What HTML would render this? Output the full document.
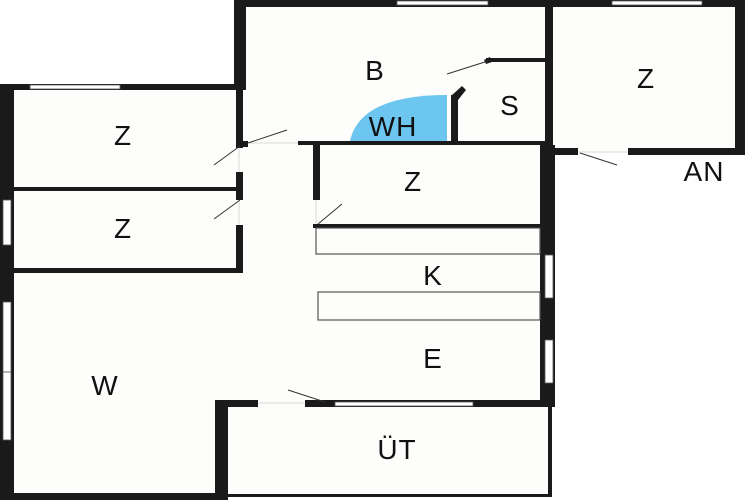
<!DOCTYPE html>
<html><head><meta charset="utf-8"><style>
html,body{margin:0;padding:0;background:#fff;}
svg{display:block}
text{font-family:"Liberation Sans",sans-serif;font-size:28px;fill:#111;text-anchor:middle;letter-spacing:1px}
</style></head><body>
<svg width="750" height="500" viewBox="0 0 750 500" xmlns="http://www.w3.org/2000/svg">
<path d="M0 84 H240 V0 H742 V152 H553 V407 H552 V497 H220 V500 H0 Z" fill="#fdfdfb"/>
<path d="M350 141 Q360 95 447 95 V141 Z" fill="#6cc6ef"/>
<g fill="#1a1a1a">
<rect x="234" y="0" width="510" height="7"/>
<rect x="234" y="0" width="12" height="90"/>
<rect x="735" y="0" width="10" height="155"/>
<rect x="545" y="0" width="8" height="150"/>
<rect x="553" y="148" width="25" height="7"/>
<rect x="628" y="148" width="117" height="7"/>
<rect x="0" y="84" width="246" height="6"/>
<rect x="0" y="84" width="14" height="416"/>
<rect x="236" y="88" width="7" height="60"/>
<rect x="236" y="172" width="7" height="28"/>
<rect x="236" y="225" width="7" height="48"/>
<rect x="14" y="187" width="226" height="4"/>
<rect x="14" y="268" width="229" height="5"/>
<rect x="298" y="141" width="250" height="4"/>
<rect x="240" y="141" width="8" height="6"/>
<rect x="313" y="145" width="7" height="55"/>
<rect x="313" y="224" width="230" height="4"/>
<rect x="451" y="95" width="7" height="47"/>
<path d="M451 96 L462 86 L466 90 L458 100 Z"/>
<rect x="486" y="58" width="60" height="4"/>
<path d="M484 60 L490 57 L492 62 L486 64 Z"/>
<rect x="540" y="145" width="15" height="262"/>
<rect x="0" y="493" width="220" height="7"/>
<rect x="215" y="400" width="13" height="100"/>
<rect x="215" y="400" width="43" height="7"/>
<rect x="305" y="400" width="250" height="7"/>
<rect x="548" y="405" width="4" height="92"/>
<rect x="226" y="494" width="326" height="3"/>
</g>
<g fill="#fff" stroke="#555" stroke-width="0.8">
<rect x="30" y="85" width="90" height="4"/>
<rect x="397" y="1" width="91" height="4"/>
<rect x="612" y="1" width="90" height="4"/>
<rect x="3" y="200" width="8" height="45"/>
<rect x="3" y="302" width="8" height="70"/>
<rect x="3" y="372" width="8" height="68"/>
<rect x="545" y="255" width="8" height="43"/>
<rect x="545" y="340" width="8" height="43"/>
<rect x="335" y="402" width="138" height="4"/>
</g>
<g fill="none" stroke="#ccc" stroke-width="0.8">
<line x1="248" y1="143" x2="298" y2="143"/>
<line x1="578" y1="152" x2="628" y2="152"/>
<line x1="258" y1="403" x2="305" y2="403"/>
<line x1="239" y1="148" x2="239" y2="172"/>
<line x1="239" y1="200" x2="239" y2="225"/>
<line x1="316" y1="200" x2="316" y2="224"/>
</g>
<g fill="none" stroke="#555" stroke-width="1.2">
<rect x="316" y="228" width="224" height="26"/>
<rect x="318" y="292" width="222" height="28"/>
</g>
<g stroke="#333" stroke-width="1" fill="none">
<line x1="248" y1="143" x2="287" y2="130"/>
<line x1="240" y1="146" x2="214" y2="165"/>
<line x1="240" y1="200" x2="214" y2="219"/>
<line x1="318" y1="224" x2="342" y2="204"/>
<line x1="488" y1="61" x2="447" y2="74"/>
<line x1="580" y1="153" x2="617" y2="165"/>
<line x1="325" y1="402" x2="288" y2="390"/>
</g>
<text x="375" y="80">B</text>
<text x="393" y="136">WH</text>
<text x="510" y="115">S</text>
<text x="646" y="88">Z</text>
<text x="704" y="181">AN</text>
<text x="123" y="145">Z</text>
<text x="123" y="238">Z</text>
<text x="413" y="191">Z</text>
<text x="433" y="285">K</text>
<text x="433" y="368">E</text>
<text x="105" y="395">W</text>
<text x="397" y="459">ÜT</text>
</svg>
</body></html>
